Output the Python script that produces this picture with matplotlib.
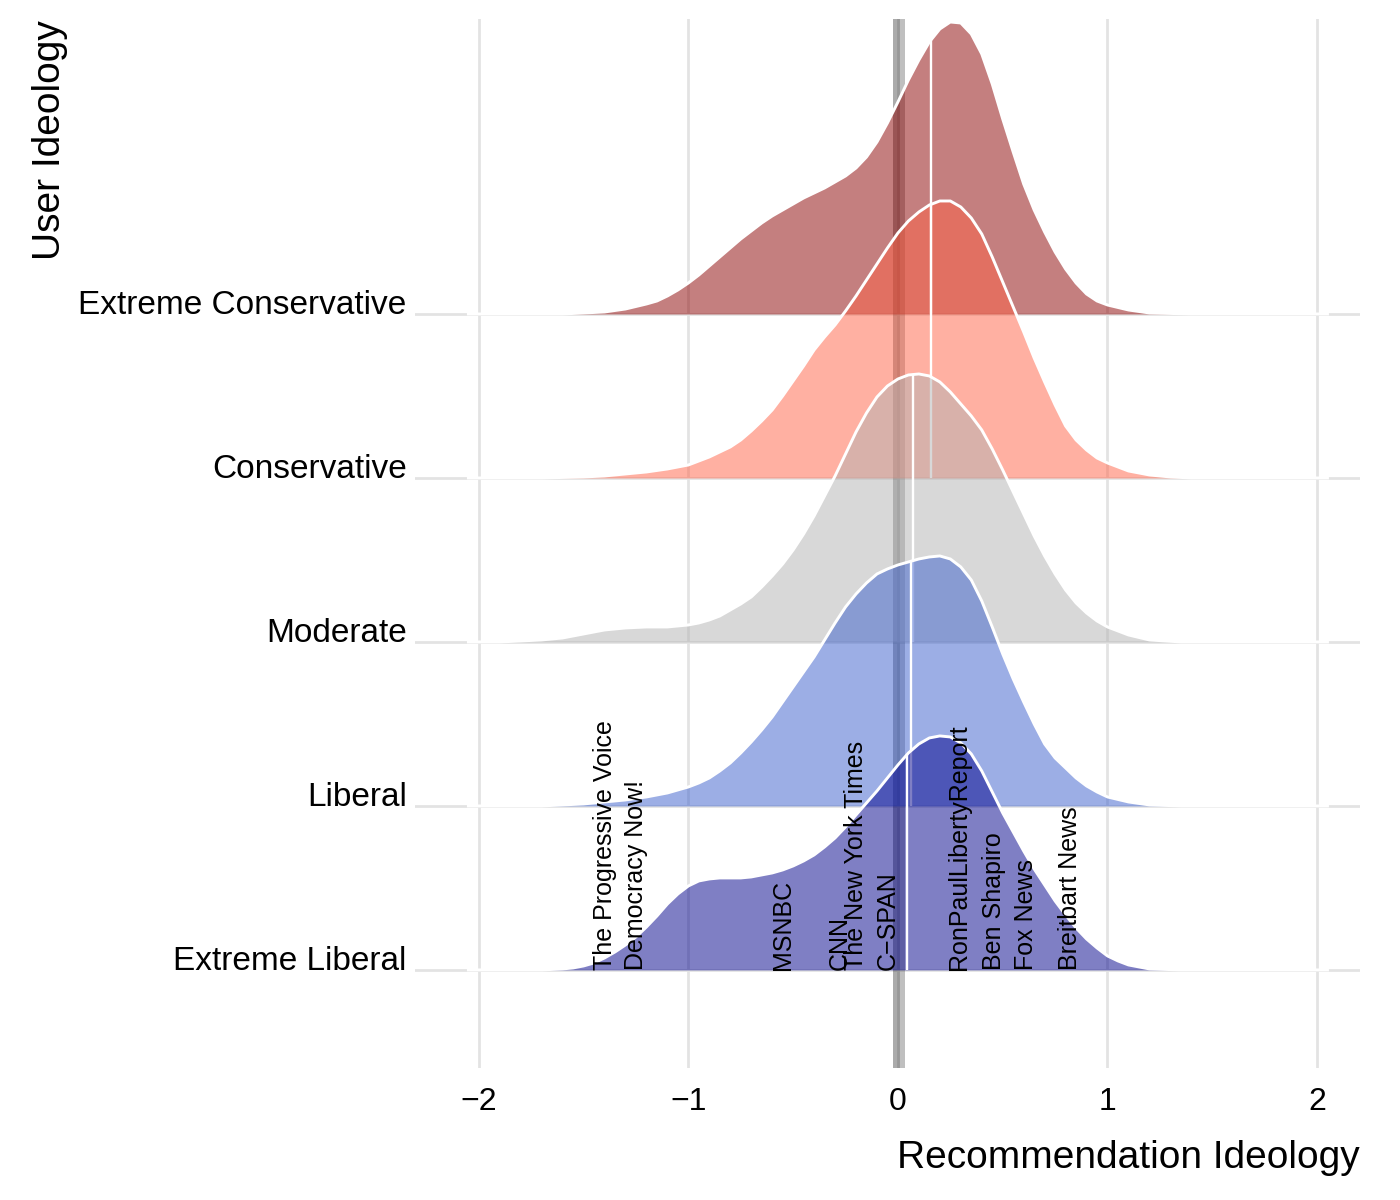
import numpy as np
import matplotlib.pyplot as plt

plt.rcParams['font.family'] = ['Liberation Sans', 'DejaVu Sans']

# user ideology groups, bottom to top
groups = ["Extreme Liberal", "Liberal", "Moderate", "Conservative", "Extreme Conservative"]
fills = ["#00008B", "#3A5FCD", "#B3B3B3", "#FF6347", "#8B0000"]
medians = [0.045, 0.06, 0.07, 0.16, 0.16]

# density curves; heights are given in 1/164 of a ridge step
units_per_ridge = 164.0

el_x = [-2.05, -1.7, -1.6, -1.55, -1.5, -1.45, -1.4, -1.35, -1.3, -1.25, -1.2, -1.15, -1.1, -1.05,
        -1.0, -0.95, -0.9, -0.85, -0.8, -0.75, -0.7, -0.65, -0.6, -0.55, -0.5, -0.45, -0.4, -0.35,
        -0.3, -0.25, -0.2, -0.15, -0.1, -0.05, 0.0, 0.05, 0.1, 0.15, 0.2, 0.25, 0.3, 0.35, 0.4,
        0.45, 0.5, 0.55, 0.6, 0.65, 0.7, 0.75, 0.8, 0.85, 0.9, 0.95, 1.0, 1.05, 1.1, 1.2, 1.35,
        2.05]
el_h = [0, 0, 1, 2, 4, 7, 12, 18, 25, 33, 43, 54, 66, 76,
        84, 89, 91, 92, 92, 92, 93, 95, 97, 100, 104, 109, 115, 123,
        132, 143, 155, 167, 179, 192, 205, 217, 226, 232, 234, 233, 227, 216, 199,
        178, 157, 138, 119, 101, 85, 69, 55, 42, 31, 22, 14, 9, 5, 1, 0,
        0]

lib_x = [-2.05, -1.7, -1.5, -1.4, -1.3, -1.2, -1.1, -1.0, -0.95, -0.9, -0.85, -0.8, -0.75, -0.7,
         -0.65, -0.6, -0.55, -0.5, -0.45, -0.4, -0.35, -0.3, -0.25, -0.2, -0.15, -0.1, -0.05, 0.0,
         0.05, 0.1, 0.15, 0.2, 0.25, 0.3, 0.35, 0.4, 0.45, 0.5, 0.55, 0.6, 0.65, 0.7, 0.75, 0.8,
         0.85, 0.9, 0.95, 1.0, 1.1, 1.2, 1.35, 2.05]
lib_h = [0, 0, 2, 4, 6, 9, 13, 19, 23, 28, 35, 43, 53, 64,
         76, 89, 104, 119, 134, 149, 166, 183, 199, 212, 223, 232, 237, 241,
         244, 247, 249, 250, 247, 239, 226, 205, 179, 152, 127, 104, 82, 62, 48, 38,
         28, 20, 14, 9, 4, 1, 0, 0]

mod_x = [-2.05, -1.9, -1.8, -1.7, -1.6, -1.5, -1.4, -1.3, -1.2, -1.1, -1.0, -0.95, -0.9, -0.85,
         -0.8, -0.75, -0.7, -0.65, -0.6, -0.55, -0.5, -0.45, -0.4, -0.35, -0.3, -0.25, -0.2, -0.15,
         -0.1, -0.05, 0.0, 0.05, 0.1, 0.15, 0.2, 0.25, 0.3, 0.35, 0.4, 0.45, 0.5, 0.55, 0.6, 0.65,
         0.7, 0.75, 0.8, 0.85, 0.9, 0.95, 1.0, 1.1, 1.2, 1.35, 2.05]
mod_h = [0, 0, 1, 2, 4, 8, 12, 14, 15, 15, 17, 19, 22, 26,
         32, 38, 45, 55, 66, 78, 92, 108, 126, 146, 166, 188, 210, 229,
         245, 256, 263, 267, 268, 266, 260, 250, 238, 226, 212, 193, 172, 150, 128, 106,
         86, 68, 52, 39, 29, 21, 15, 7, 2, 0, 0]

con_x = [-2.05, -1.7, -1.5, -1.4, -1.3, -1.2, -1.1, -1.0, -0.95, -0.9, -0.85, -0.8, -0.75, -0.7,
         -0.65, -0.6, -0.55, -0.5, -0.45, -0.4, -0.35, -0.3, -0.25, -0.2, -0.15, -0.1, -0.05, 0.0,
         0.05, 0.1, 0.15, 0.2, 0.25, 0.3, 0.35, 0.4, 0.45, 0.5, 0.55, 0.6, 0.65, 0.7, 0.75, 0.8,
         0.85, 0.9, 0.95, 1.0, 1.1, 1.2, 1.3, 1.4, 2.05]
con_h = [0, 0, 1, 2, 4, 6, 9, 13, 17, 21, 26, 31, 38, 47,
         57, 68, 82, 97, 112, 128, 141, 153, 167, 182, 198, 214, 230, 245,
         257, 266, 273, 277, 277, 271, 260, 244, 221, 196, 171, 146, 120, 96, 73, 52,
         38, 28, 20, 15, 7, 3, 1, 0, 0]

ec_x = [-2.05, -1.6, -1.5, -1.4, -1.3, -1.2, -1.15, -1.1, -1.05, -1.0, -0.95, -0.9, -0.85, -0.8,
        -0.75, -0.7, -0.65, -0.6, -0.55, -0.5, -0.45, -0.4, -0.35, -0.3, -0.25, -0.2, -0.15, -0.1,
        -0.05, 0.0, 0.05, 0.1, 0.15, 0.2, 0.25, 0.3, 0.35, 0.4, 0.45, 0.5, 0.55, 0.6, 0.65, 0.7,
        0.75, 0.8, 0.85, 0.9, 0.95, 1.0, 1.1, 1.2, 1.4, 2.05]
ec_h = [0, 0, 1, 2, 5, 10, 13, 18, 24, 31, 39, 48, 57, 66,
        75, 83, 91, 98, 104, 110, 116, 121, 126, 132, 138, 146, 157, 172,
        191, 212, 234, 254, 272, 285, 292, 291, 280, 260, 230, 195, 162, 130, 104, 82,
        62, 45, 31, 20, 13, 9, 4, 1, 0, 0]

curves = [(el_x, el_h), (lib_x, lib_h), (mod_x, mod_h), (con_x, con_h), (ec_x, ec_h)]

# channels placed at their ideology score
outlets = ["The Progressive Voice", "Democracy Now!", "MSNBC", "CNN", "The New York Times",
           "C\u2212SPAN", "RonPaulLibertyReport", "Ben Shapiro", "Fox News", "Breitbart News"]
outlet_pos = [-1.40, -1.25, -0.55, -0.28, -0.20, -0.05, 0.29, 0.46, 0.61, 0.82]

fig = plt.figure(figsize=(14, 12), dpi=100)
ax = fig.add_axes([0.2964, 0.11, 0.675, 0.8742])
ax.set_xlim(-2.305, 2.205)
ax.set_ylim(-0.598, 5.799)
for s in ax.spines.values():
    s.set_visible(False)

ax.set_xticks([-2, -1, 0, 1, 2])
ax.set_yticks(range(len(groups)))
ax.set_yticklabels(groups)
ax.grid(True, color="#e3e3e3", lw=2.0)
ax.set_axisbelow(True)
ax.tick_params(axis="x", length=0, pad=14, labelsize=23)
ax.tick_params(axis="y", length=0, pad=6, labelsize=24)
for lbl in ax.get_yticklabels():
    lbl.set_va("baseline")

# zero band
ax.axvspan(-0.024, 0.033, color="black", alpha=0.25, lw=0, zorder=1)
ax.axvspan(-0.024, 0.008, color="black", alpha=0.1, lw=0, zorder=1)

# top ridge first so the lower ones sit in front
for i in range(len(groups) - 1, -1, -1):
    x = np.array(curves[i][0])
    h = np.array(curves[i][1]) / units_per_ridge
    z = 2 + (len(groups) - i)
    ax.fill_between(x, i, i + h, color=fills[i], alpha=0.5, lw=0, zorder=z)
    ax.plot(x, i + h, color="white", lw=2.1, zorder=z + 0.1, solid_joinstyle="round")
    ax.vlines(medians[i], i, i + np.interp(medians[i], x, h), color="white", lw=1.7,
              zorder=z + 0.2)

for name, p in zip(outlets, outlet_pos):
    ax.text(p, 0, name, rotation=90, ha="center", va="bottom", fontsize=18, zorder=20)

fig.text(1360 / 1400, 1 - 1168 / 1200, "Recommendation Ideology", ha="right", va="baseline",
         fontsize=28)
fig.text(32 / 1400, 1 - 20 / 1200, "User Ideology", rotation=90, ha="left", va="top",
         fontsize=28)

fig.savefig("out.png", dpi=100)
